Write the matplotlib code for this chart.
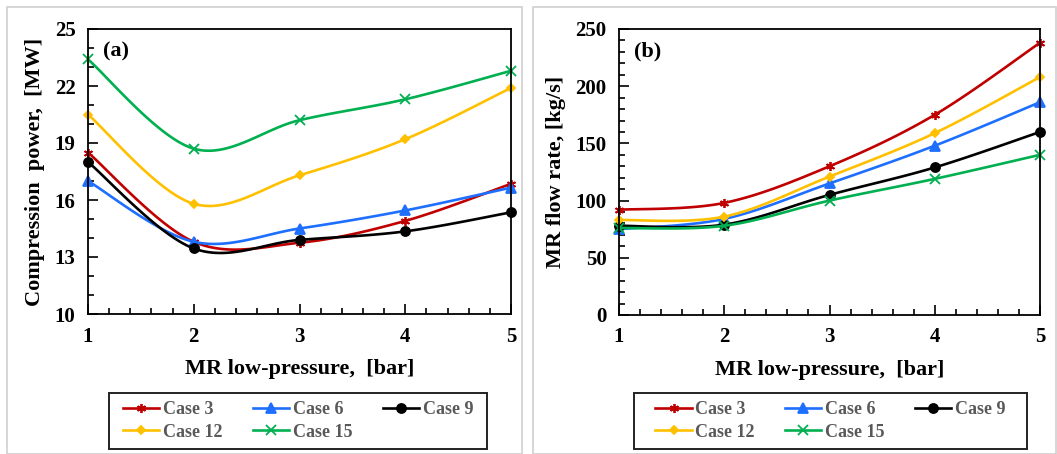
import matplotlib.pyplot as plt
import numpy as np
from matplotlib.patches import Rectangle
from matplotlib.ticker import MultipleLocator

plt.rcParams['font.family'] = ['Liberation Serif', 'DejaVu Serif']
plt.rcParams['font.weight'] = 'bold'

# Data
pressure = [1, 2, 3, 4, 5]
cases = ['Case 3', 'Case 6', 'Case 9', 'Case 12', 'Case 15']

power_case3 = [18.5, 13.8, 13.75, 14.9, 16.85]
power_case6 = [17.0, 13.8, 14.5, 15.45, 16.65]
power_case9 = [18.0, 13.45, 13.9, 14.35, 15.35]
power_case12 = [20.5, 15.8, 17.3, 19.2, 21.9]
power_case15 = [23.4, 18.7, 20.2, 21.3, 22.8]

flow_case3 = [92, 98, 130, 175, 238]
flow_case6 = [75, 84, 115, 148, 186]
flow_case9 = [78, 79, 105, 129, 160]
flow_case12 = [83, 86, 121, 159, 208]
flow_case15 = [76, 78, 100, 119, 140]

power = [power_case3, power_case6, power_case9, power_case12, power_case15]
flow = [flow_case3, flow_case6, flow_case9, flow_case12, flow_case15]

power_ticks = [10, 13, 16, 19, 22, 25]
flow_ticks = [0, 50, 100, 150, 200, 250]

colors = ['#C00000', '#1F6FFF', '#000000', '#FFC000', '#00B050']
markers = [(6, 2, 0), '^', 'o', 'D', 'x']
msizes = [6.5, 6.5, 6.5, 4.5, 6.5]


def smooth(x, y, n=30):
    # Excel-style smoothed line: cubic Bezier with Catmull-Rom tangents
    x = np.asarray(x, float)
    y = np.asarray(y, float)
    px = np.concatenate(([x[0]], x, [x[-1]]))
    py = np.concatenate(([y[0]], y, [y[-1]]))
    xs, ys = [], []
    t = np.linspace(0, 1, n)
    for i in range(1, len(px) - 2):
        p0 = np.array([px[i], py[i]])
        p3 = np.array([px[i + 1], py[i + 1]])
        c1 = p0 + (np.array([px[i + 1], py[i + 1]]) - np.array([px[i - 1], py[i - 1]])) / 6
        c2 = p3 - (np.array([px[i + 2], py[i + 2]]) - np.array([px[i], py[i]])) / 6
        b = ((1 - t) ** 3)[:, None] * p0 + (3 * (1 - t) ** 2 * t)[:, None] * c1 \
            + (3 * (1 - t) * t ** 2)[:, None] * c2 + (t ** 3)[:, None] * p3
        xs.extend(b[:, 0])
        ys.extend(b[:, 1])
    return xs, ys


W, H = 1057, 454
fig = plt.figure(figsize=(W / 100, H / 100), dpi=100)

# light panel borders
fig.patches.append(Rectangle((7 / W, 0), 515 / W, 447 / H, transform=fig.transFigure,
                             fill=False, edgecolor='#d0d0d0', linewidth=1.2))
fig.patches.append(Rectangle((533 / W, 0), 523 / W, 447 / H, transform=fig.transFigure,
                             fill=False, edgecolor='#d0d0d0', linewidth=1.2))

ax1 = fig.add_axes([88 / W, 140 / H, 423 / W, 285 / H])
ax2 = fig.add_axes([619 / W, 139 / H, 421 / W, 286 / H])

panels = [(ax1, power, power_ticks, 1, 'Compression  power,  [MW]', '(a)'),
          (ax2, flow, flow_ticks, 10, 'MR flow rate, [kg/s]', '(b)')]

for ax, data, yticks, minor, ylabel, tag in panels:
    for vals, c, m, ms, lab in zip(data, colors, markers, msizes, cases):
        sx, sy = smooth(pressure, vals)
        ax.plot(sx, sy, color=c, linewidth=1.9, clip_on=False)
        ax.plot(pressure, vals, linestyle='none', marker=m, markersize=ms, color=c,
                markeredgewidth=1.3, clip_on=False)
        ax.plot([], [], color=c, linewidth=1.9, marker=m, markersize=ms, markeredgewidth=1.3, label=lab)
    ax.set_xlim(1, 5)
    ax.set_ylim(yticks[0], yticks[-1])
    ax.set_xticks(pressure)
    ax.xaxis.set_minor_locator(MultipleLocator(0.2))
    ax.set_yticks(yticks)
    ax.yaxis.set_minor_locator(MultipleLocator(minor))
    ax.tick_params(which='both', direction='in', width=1.2, labelsize=15)
    ax.tick_params(which='major', length=7, pad=9)
    ax.tick_params(which='minor', length=4)
    for s in ax.spines.values():
        s.set_linewidth(1.3)
    ax.set_xlabel('MR low-pressure,  [bar]', fontsize=16, fontweight='bold', labelpad=9)
    ax.set_ylabel(ylabel, fontsize=16, fontweight='bold', labelpad=7)
    ax.text(0.035, 0.92, tag, transform=ax.transAxes, fontsize=16, fontweight='bold',
            ha='left', va='center')

order = [0, 3, 1, 4, 2]
for ax, x0, x1 in [(ax1, 109, 487), (ax2, 634, 1027)]:
    fig.patches.append(Rectangle((x0 / W, 1 - 449 / H), (x1 - x0) / W, 56 / H, transform=fig.transFigure,
                                 fill=False, edgecolor='#222222', linewidth=1.4))
    handles, labels = ax.get_legend_handles_labels()
    leg = ax.legend([handles[i] for i in order], [labels[i] for i in order],
                    loc='center', ncol=3, bbox_to_anchor=((x0 + x1) / 2 / W, 1 - 421 / H),
                    bbox_transform=fig.transFigure, fontsize=13, frameon=False,
                    handlelength=2.0, handletextpad=0.2, columnspacing=1.7,
                    labelspacing=0.3, borderpad=0.2)
    for t in leg.get_texts():
        t.set_color('#595959')
        t.set_fontweight('bold')

fig.savefig('out.png', dpi=100)
